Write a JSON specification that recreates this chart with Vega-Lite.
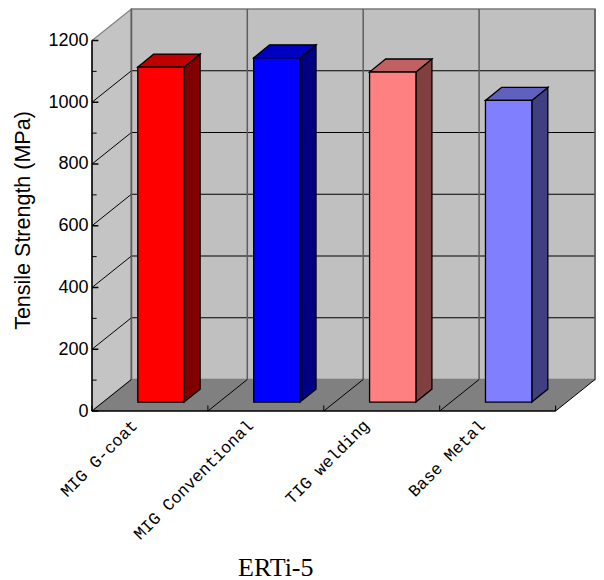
{
  "$schema": "https://vega.github.io/schema/vega-lite/v6.json",
  "width": 503,
  "height": 402,
  "autosize": "none",
  "padding": {"left": 92, "top": 9, "right": 9, "bottom": 169},
  "background": "white",
  "config": {"view": {"stroke": null}, "axisX": {"disable": true}},
  "title": {"text": "ERTi-5", "orient": "bottom", "anchor": "start", "offset": 12, "dx": 226, "font": "Liberation Serif", "fontSize": 26, "fontWeight": "normal", "color": "#000000"},
  "datasets": {
    "results": [
      {"process": "MIG G-coat", "slot": 0, "strength": 1085},
      {"process": "MIG Conventional", "slot": 1, "strength": 1115},
      {"process": "TIG welding", "slot": 2, "strength": 1069},
      {"process": "Base Metal", "slot": 3, "strength": 977}
    ],
    "major": [{"mpa": 0}, {"mpa": 200}, {"mpa": 400}, {"mpa": 600}, {"mpa": 800}, {"mpa": 1000}, {"mpa": 1200}],
    "minor": [{"mpa": 100}, {"mpa": 300}, {"mpa": 500}, {"mpa": 700}, {"mpa": 900}, {"mpa": 1100}],
    "slots": [{"slot": 0}, {"slot": 1}, {"slot": 2}, {"slot": 3}, {"slot": 4}],
    "depth": [{"t": 0}, {"t": 1}]
  },
  "layer": [
    {
      "data": {"name": "depth"},
      "transform": [{"calculate": "datum.t * 0.34", "as": "px"}, {"calculate": "datum.t * 102", "as": "lo"}, {"calculate": "1200 + datum.t * 102", "as": "hi"}],
      "mark": {"type": "area", "fill": "#c4c4c4", "stroke": "#808080", "strokeWidth": 1.2},
      "encoding": {
        "x": {"field": "px", "type": "quantitative", "scale": {"domain": [0, 4.34], "nice": false, "zero": false}},
        "y": {
          "field": "lo",
          "type": "quantitative",
          "scale": {"domain": [0, 1302], "nice": false, "zero": false},
          "axis": {
            "values": [0, 200, 400, 600, 800, 1000, 1200],
            "format": "d",
            "domain": false,
            "ticks": false,
            "grid": false,
            "labelFont": "Liberation Sans",
            "labelFontSize": 18,
            "labelColor": "#000000",
            "labelPadding": 4,
            "title": "Tensile Strength (MPa)",
            "titleFont": "Liberation Sans",
            "titleFontSize": 21.5,
            "titleFontWeight": "normal",
            "titleColor": "#000000",
            "titleBaseline": "alphabetic",
            "titleX": -63,
            "titleY": 211
          }
        },
        "y2": {"field": "hi"}
      }
    },
    {
      "data": {"values": [{"left": 0.34, "right": 4.34, "lo": 102, "hi": 1302}]},
      "mark": {"type": "rect", "fill": "#c0c0c0", "stroke": "#7a7a7a", "strokeWidth": 1.5},
      "encoding": {
        "x": {"field": "left", "type": "quantitative"},
        "x2": {"field": "right"},
        "y": {"field": "lo", "type": "quantitative"},
        "y2": {"field": "hi"}
      }
    },
    {
      "data": {"name": "depth"},
      "transform": [{"calculate": "datum.t * 102", "as": "py"}, {"calculate": "datum.t * 0.34", "as": "p1"}, {"calculate": "4 + datum.t * 0.34", "as": "p2"}],
      "mark": {"type": "area", "orient": "horizontal", "fill": "#808080"},
      "encoding": {
        "y": {"field": "py", "type": "quantitative"},
        "x": {"field": "p1", "type": "quantitative"},
        "x2": {"field": "p2"}
      }
    },
    {
      "data": {"name": "major"},
      "transform": [{"filter": "datum.mpa > 0 && datum.mpa < 1200"}, {"calculate": "datum.mpa + 102", "as": "back"}, {"calculate": "0.34", "as": "p1"}, {"calculate": "4.34", "as": "p2"}],
      "mark": {"type": "rule", "stroke": "#000000", "strokeWidth": 1},
      "encoding": {
        "x": {"field": "p1", "type": "quantitative"},
        "x2": {"field": "p2"},
        "y": {"field": "back", "type": "quantitative"}
      }
    },
    {
      "data": {"name": "major"},
      "transform": [{"filter": "datum.mpa > 0 && datum.mpa < 1200"}, {"calculate": "datum.mpa + 102", "as": "back"}, {"calculate": "0", "as": "p1"}, {"calculate": "0.34", "as": "p2"}],
      "mark": {"type": "rule", "stroke": "#000000", "strokeWidth": 1},
      "encoding": {
        "x": {"field": "p1", "type": "quantitative"},
        "x2": {"field": "p2"},
        "y": {"field": "mpa", "type": "quantitative"},
        "y2": {"field": "back"}
      }
    },
    {
      "data": {"name": "slots"},
      "transform": [{"calculate": "datum.slot + 0.34", "as": "back"}, {"calculate": "102", "as": "lo"}, {"calculate": "1302", "as": "hi"}],
      "mark": {"type": "rule", "stroke": "#5e5e5e", "strokeWidth": 1.5},
      "encoding": {
        "x": {"field": "back", "type": "quantitative"},
        "y": {"field": "lo", "type": "quantitative"},
        "y2": {"field": "hi"}
      }
    },
    {
      "data": {"name": "slots"},
      "transform": [{"calculate": "datum.slot + 0.34", "as": "back"}, {"calculate": "0", "as": "lo"}, {"calculate": "102", "as": "hi"}],
      "mark": {"type": "rule", "stroke": "#000000", "strokeWidth": 1},
      "encoding": {
        "x": {"field": "slot", "type": "quantitative"},
        "x2": {"field": "back"},
        "y": {"field": "lo", "type": "quantitative"},
        "y2": {"field": "hi"}
      }
    },
    {
      "data": {"name": "results"},
      "transform": [
        {"calculate": "[0, 1]", "as": "t"},
        {"flatten": ["t"]},
        {"calculate": "datum.slot + 0.795 + datum.t * 0.138", "as": "px"},
        {"calculate": "29 + datum.t * 42", "as": "lo"},
        {"calculate": "datum.strength + 29 + datum.t * 42", "as": "hi"}
      ],
      "mark": {"type": "area", "stroke": "#000000", "strokeWidth": 1.3},
      "encoding": {
        "x": {"field": "px", "type": "quantitative"},
        "y": {"field": "lo", "type": "quantitative"},
        "y2": {"field": "hi"},
        "fill": {"field": "process", "type": "nominal", "legend": null, "scale": {"domain": ["MIG G-coat", "MIG Conventional", "TIG welding", "Base Metal"], "range": ["#800000", "#000080", "#804040", "#404080"]}}
      }
    },
    {
      "data": {"name": "results"},
      "transform": [
        {"calculate": "[0, 1]", "as": "t"},
        {"flatten": ["t"]},
        {"calculate": "datum.strength + 29 + datum.t * 42", "as": "py"},
        {"calculate": "datum.slot + 0.395 + datum.t * 0.138", "as": "p1"},
        {"calculate": "datum.slot + 0.795 + datum.t * 0.138", "as": "p2"}
      ],
      "mark": {"type": "area", "orient": "horizontal", "stroke": "#000000", "strokeWidth": 1.3},
      "encoding": {
        "y": {"field": "py", "type": "quantitative"},
        "x": {"field": "p1", "type": "quantitative"},
        "x2": {"field": "p2"},
        "fill": {"field": "process", "type": "nominal", "legend": null, "scale": {"domain": ["MIG G-coat", "MIG Conventional", "TIG welding", "Base Metal"], "range": ["#c00000", "#0000c0", "#c06060", "#6060c0"]}}
      }
    },
    {
      "data": {"name": "results"},
      "transform": [
        {"calculate": "datum.slot + 0.395", "as": "p1"},
        {"calculate": "datum.slot + 0.795", "as": "p2"},
        {"calculate": "29", "as": "base"},
        {"calculate": "datum.strength + 29", "as": "top"}
      ],
      "mark": {"type": "rect", "stroke": "#000000", "strokeWidth": 1.3},
      "encoding": {
        "x": {"field": "p1", "type": "quantitative"},
        "x2": {"field": "p2"},
        "y": {"field": "base", "type": "quantitative"},
        "y2": {"field": "top"},
        "fill": {"field": "process", "type": "nominal", "legend": null, "scale": {"domain": ["MIG G-coat", "MIG Conventional", "TIG welding", "Base Metal"], "range": ["#ff0000", "#0000ff", "#ff8080", "#8080ff"]}}
      }
    },
    {
      "data": {"name": "results"},
      "transform": [
        {"calculate": "datum.slot + 0.37", "as": "px"},
        {"calculate": "-39", "as": "py"}
      ],
      "mark": {"type": "text", "angle": 315, "align": "right", "baseline": "middle", "font": "Liberation Mono", "fontSize": 16.8, "color": "#000000", "clip": false},
      "encoding": {
        "x": {"field": "px", "type": "quantitative"},
        "y": {"field": "py", "type": "quantitative"},
        "text": {"field": "process", "type": "nominal"}
      }
    },
    {
      "data": {"name": "slots"},
      "transform": [{"calculate": "0", "as": "lo"}, {"calculate": "18", "as": "hi"}],
      "mark": {"type": "rule", "stroke": "#000000", "strokeWidth": 1},
      "encoding": {
        "x": {"field": "slot", "type": "quantitative"},
        "y": {"field": "lo", "type": "quantitative"},
        "y2": {"field": "hi"}
      }
    },
    {
      "data": {"name": "minor"},
      "transform": [{"calculate": "0", "as": "p1"}, {"calculate": "0.04", "as": "p2"}],
      "mark": {"type": "rule", "stroke": "#000000", "strokeWidth": 1},
      "encoding": {
        "x": {"field": "p1", "type": "quantitative"},
        "x2": {"field": "p2"},
        "y": {"field": "mpa", "type": "quantitative"}
      }
    },
    {
      "data": {"name": "major"},
      "transform": [{"calculate": "0", "as": "p1"}, {"calculate": "0.055", "as": "p2"}],
      "mark": {"type": "rule", "stroke": "#000000", "strokeWidth": 1.5},
      "encoding": {
        "x": {"field": "p1", "type": "quantitative"},
        "x2": {"field": "p2"},
        "y": {"field": "mpa", "type": "quantitative"}
      }
    },
    {
      "data": {"values": [{"p1": 0, "p2": 4, "lo": 0}]},
      "mark": {"type": "rule", "stroke": "#000000", "strokeWidth": 1.5},
      "encoding": {
        "x": {"field": "p1", "type": "quantitative"},
        "x2": {"field": "p2"},
        "y": {"field": "lo", "type": "quantitative"}
      }
    },
    {
      "data": {"values": [{"p1": 0, "lo": 0, "hi": 1200}]},
      "mark": {"type": "rule", "stroke": "#000000", "strokeWidth": 1.5},
      "encoding": {
        "x": {"field": "p1", "type": "quantitative"},
        "y": {"field": "lo", "type": "quantitative"},
        "y2": {"field": "hi"}
      }
    }
  ],
  "resolve": {"scale": {"fill": "independent"}}
}
